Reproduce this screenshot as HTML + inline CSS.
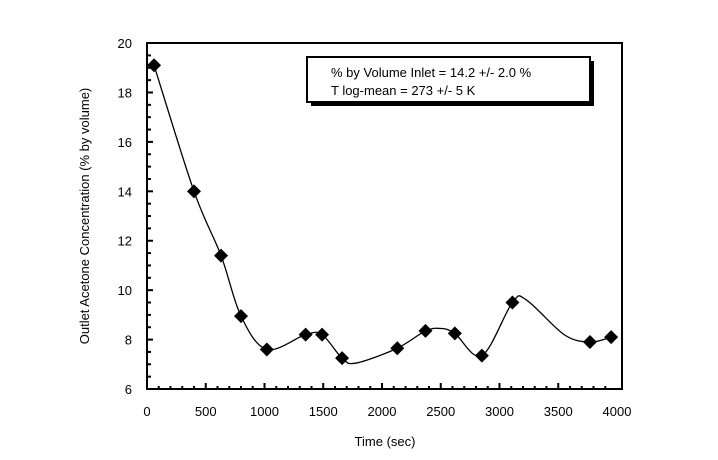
<!DOCTYPE html>
<html><head><meta charset="utf-8"><style>
body{margin:0;background:#fff;}
svg{display:block;font-family:"Liberation Sans",Arial,sans-serif;}
</style></head><body>
<svg id="s" width="718" height="460" xmlns="http://www.w3.org/2000/svg">
<rect x="147" y="43" width="475" height="346" fill="none" stroke="#000" stroke-width="2"/>
<g id="ticks" stroke="#000" stroke-width="2"></g>
<g id="lab" font-size="13" fill="#000"></g>
<path id="curve" fill="none" stroke="#000" stroke-width="1.3"/>
<g id="pts" fill="#000"></g>
<rect x="311" y="61" width="283" height="45" fill="#000"/>
<rect x="307" y="57" width="283" height="45" fill="#fff" stroke="#000" stroke-width="2"/>
<text x="331" y="77" font-size="13">% by Volume Inlet = 14.2 +/- 2.0 %</text>
<text x="331" y="95" font-size="13">T log-mean = 273 +/- 5 K</text>
<text x="385" y="446" font-size="13" text-anchor="middle">Time (sec)</text>
<text transform="translate(89,216) rotate(-90)" font-size="13" text-anchor="middle">Outlet Acetone Concentration (% by volume)</text>
</svg>
<script>
var NS="http://www.w3.org/2000/svg";
function X(t){return 147+t*0.1175;}
function Y(v){return 389-(v-6)*24.71;}
function el(n,a,p,txt){var e=document.createElementNS(NS,n);for(var k in a)e.setAttribute(k,a[k]);if(txt)e.textContent=txt;document.getElementById(p).appendChild(e);}
for(var t=100;t<4000;t+=100){var maj=t%500==0;el("line",{x1:X(t),x2:X(t),y1:389,y2:389-(maj?6:3)},"ticks");}
for(var v=6.5;v<20;v+=0.5){var maj=v%2==0;el("line",{x1:147,x2:147+(maj?6:4),y1:Y(v),y2:Y(v)},"ticks");}
for(var t=0;t<=4000;t+=500)el("text",{x:X(t),y:416,"text-anchor":"middle"},"lab",""+t);
for(var v=6;v<=20;v+=2)el("text",{x:132,y:Y(v)+5,"text-anchor":"end"},"lab",""+v);
var P=[[60,19.1],[400,14.0],[630,11.4],[800,8.95],[1020,7.6],[1350,8.2],[1490,8.2],[1660,7.25],[2130,7.65],[2370,8.35],[2620,8.25],[2850,7.35],[3110,9.5],[3770,7.9],[3950,8.1]];
var C=[[60,19.1],[400,14.0],[630,11.4],[800,8.95],[1020,7.6],[1350,8.2],[1490,8.2],[1660,7.25],[1780,7.05],[2130,7.65],[2370,8.35],[2500,8.45],[2620,8.25],[2850,7.35],[3110,9.5],[3230,9.6],[3550,8.2],[3770,7.9],[3950,8.1]];
var q=C.map(function(p){return [X(p[0]),Y(p[1])];});
var d="M"+q[0][0]+","+q[0][1];
for(var i=0;i<q.length-1;i++){var p0=q[Math.max(0,i-1)],p1=q[i],p2=q[i+1],p3=q[Math.min(q.length-1,i+2)];
d+=" C"+(p1[0]+(p2[0]-p0[0])/6)+","+(p1[1]+(p2[1]-p0[1])/6)+" "+(p2[0]-(p3[0]-p1[0])/6)+","+(p2[1]-(p3[1]-p1[1])/6)+" "+p2[0]+","+p2[1];}
document.getElementById("curve").setAttribute("d",d);
P.forEach(function(p){var x=X(p[0]),y=Y(p[1]);el("polygon",{points:(x-7)+","+y+" "+x+","+(y-7)+" "+(x+7)+","+y+" "+x+","+(y+7)},"pts");});
</script>
</body></html>
